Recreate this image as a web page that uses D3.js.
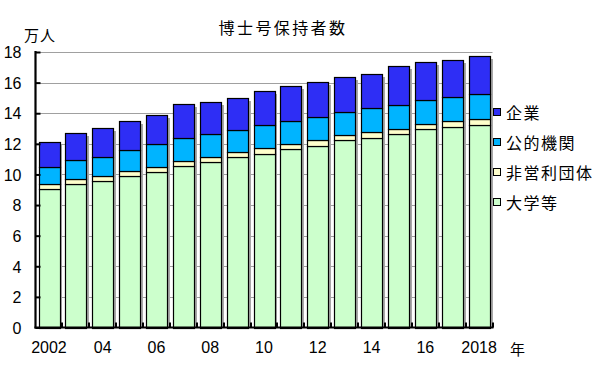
<!DOCTYPE html>
<html><head><meta charset="utf-8">
<script src="https://cdn.jsdelivr.net/npm/d3@7"></script>
<style>body{margin:0;background:#fff}svg{display:block}</style>
</head><body>
<svg id="c" width="600" height="365"></svg>
<script>
const years = [2002,2003,2004,2005,2006,2007,2008,2009,2010,2011,2012,2013,2014,2015,2016,2017,2018];
const xTickLabels = ["2002","","04","","06","","08","","10","","12","","14","","16","","2018"];
const yTicks = [0,2,4,6,8,10,12,14,16,18];
const seriesNames = ["大学等","非営利団体","公的機関","企業"];
const university = [9.07,9.35,9.59,9.93,10.18,10.52,10.83,11.12,11.35,11.66,11.89,12.22,12.39,12.61,12.94,13.09,13.26];
const nonprofit  = [0.30,0.35,0.33,0.28,0.30,0.35,0.34,0.34,0.35,0.32,0.37,0.35,0.38,0.37,0.37,0.39,0.37];
const publicInst = [1.11,1.26,1.21,1.40,1.48,1.48,1.48,1.46,1.56,1.54,1.52,1.54,1.54,1.57,1.56,1.57,1.65];
const corporate  = [1.63,1.74,1.90,1.91,1.95,2.26,2.07,2.10,2.22,2.25,2.29,2.26,2.28,2.52,2.48,2.41,2.46];
const colors = ["#ccffcc","#ffffcc","#00b4ff","#2e2ef5"];

(function(){
const rows = years.map((yr,i)=>({year:yr,"大学等":university[i],"非営利団体":nonprofit[i],"公的機関":publicInst[i],"企業":corporate[i]}));
const stack = d3.stack().keys(seriesNames)(rows);

const svg = d3.select("#c");
const pLeft = 35.5, pRight = 492.5, pBase = 327.5, pTop = 52;
const x = d3.scaleBand().domain(years).range([pLeft, pRight]).padding(0);
const y = d3.scaleLinear().domain([0,18]).range([pBase, pTop]);
const off = 3, bw = x.step() - 6;
const cjk = "'Noto Sans CJK JP', sans-serif";
const lat = "'Liberation Sans', Arial, sans-serif";

// gridlines
svg.append("g").selectAll("line").data(yTicks.filter(d=>d>0)).join("line")
  .attr("x1", pLeft).attr("x2", pRight).attr("y1", d=>Math.round(y(d))+0.5).attr("y2", d=>Math.round(y(d))+0.5)
  .attr("stroke", "#a0a0a0").attr("stroke-width", 1);

// shadows
const totals = years.map((_,i)=>university[i]+nonprofit[i]+publicInst[i]+corporate[i]);
svg.append("g").selectAll("rect").data(years).join("rect")
  .attr("x", d=>Math.round(x(d)+off+bw)+1).attr("width", 2)
  .attr("y", (d,i)=>Math.round(y(totals[i]))+3).attr("height", (d,i)=>pBase - Math.round(y(totals[i])) - 3)
  .attr("fill", "#a8a8a8");

// bars
svg.append("g").selectAll("g").data(stack).join("g")
  .attr("fill", (d,i)=>colors[i])
  .selectAll("rect").data(d=>d).join("rect")
  .attr("x", d=>Math.round(x(d.data.year)+off)+0.5)
  .attr("width", Math.round(bw))
  .attr("y", d=>Math.round(y(d[1]))+0.5)
  .attr("height", d=>Math.round(y(d[0]))-Math.round(y(d[1])))
  .attr("stroke", "#000").attr("stroke-width", 1.2);

// y axis
const yAxis = d3.axisLeft(y).tickValues(yTicks).tickSize(-5).tickPadding(14).tickFormat(d3.format("d"));
const gy = svg.append("g").attr("transform", `translate(${pLeft},0)`).call(yAxis);
gy.select(".domain").remove();
gy.selectAll(".tick line").attr("stroke", "#000").attr("stroke-width", 2);
gy.selectAll(".tick text").attr("font-family", lat).attr("font-size", 16).attr("fill", "#000").attr("dy", "0.36em");
svg.append("line").attr("x1", pLeft).attr("x2", pLeft).attr("y1", pTop-1).attr("y2", pBase+1)
  .attr("stroke", "#000").attr("stroke-width", 2.2);

// x axis
const xAxis = d3.axisBottom(x).tickSize(0).tickPadding(14).tickFormat((d,i)=>xTickLabels[i]);
const gx = svg.append("g").attr("transform", `translate(0,${pBase})`).call(xAxis);
gx.select(".domain").remove();
gx.selectAll(".tick text").attr("font-family", lat).attr("font-size", 16).attr("fill", "#000");
// category boundary ticks
svg.append("g").selectAll("line").data(years).join("line")
  .attr("x1", d=>Math.round(x(d)+x.step())).attr("x2", d=>Math.round(x(d)+x.step()))
  .attr("y1", pBase).attr("y2", pBase-5).attr("stroke", "#000").attr("stroke-width", 2);
svg.append("line").attr("x1", pLeft-1).attr("x2", pRight+1).attr("y1", pBase).attr("y2", pBase)
  .attr("stroke", "#000").attr("stroke-width", 2.2);

// texts
svg.append("text").attr("x", 283).attr("y", 27).attr("text-anchor", "middle").attr("dominant-baseline", "central")
  .attr("font-family", cjk).attr("font-size", 16).attr("letter-spacing", 2.4).text("博士号保持者数");
svg.append("text").attr("x", 40).attr("y", 34).attr("text-anchor", "middle").attr("dominant-baseline", "central")
  .attr("font-family", cjk).attr("font-size", 15).attr("letter-spacing", 1).text("万人");
svg.append("text").attr("x", 510).attr("y", 348).attr("dominant-baseline", "central")
  .attr("font-family", cjk).attr("font-size", 15).text("年");

// legend
const legendOrder = [3,2,1,0];
const lg = svg.append("g").selectAll("g").data(legendOrder).join("g")
  .attr("transform", (d,i)=>`translate(493,${112 + i*30})`);
lg.append("rect").attr("x", 0.5).attr("y", -3.5).attr("width", 7).attr("height", 7)
  .attr("fill", d=>colors[d]).attr("stroke", "#000").attr("stroke-width", 1);
lg.append("text").attr("x", 13).attr("y", 0).attr("dominant-baseline", "central")
  .attr("font-family", cjk).attr("font-size", 16).attr("letter-spacing", 1.5).text(d=>seriesNames[d]);
})();
</script>
</body></html>
